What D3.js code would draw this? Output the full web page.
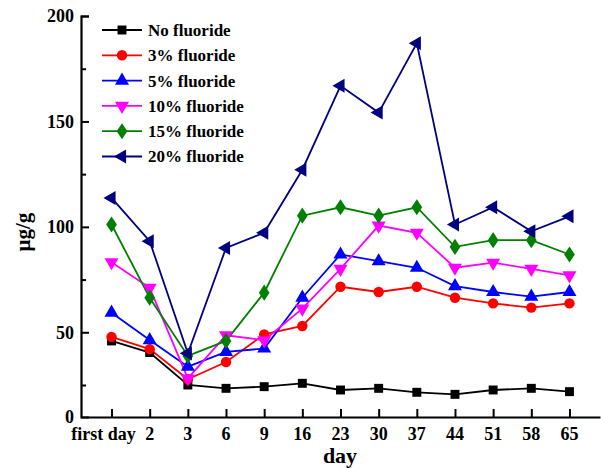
<!DOCTYPE html>
<html><head><meta charset="utf-8">
<script src="https://cdn.jsdelivr.net/npm/d3@7"></script>
<style>
body{margin:0;background:#fff;}
text{font-family:"Liberation Serif","Times New Roman",serif;font-weight:bold;fill:#000;}
</style></head>
<body><svg id="c" width="601" height="468"></svg>
<script>
const days = ["first day","2","3","6","9","16","23","30","37","44","51","58","65"];
const seriesNames = ["No fluoride","3% fluoride","5% fluoride","10% fluoride","15% fluoride","20% fluoride"];
const noFluoride = [45.9,40.4,25.0,22.4,23.7,25.8,21.1,22.4,19.3,17.7,21.1,22.4,19.8];
const fluoride3  = [47.8,42.0,27.7,35.9,49.0,53.0,71.6,69.1,71.6,66.4,63.7,61.7,63.7];
const fluoride5  = [59.3,46.3,33.7,40.7,42.3,66.4,86.9,83.7,80.6,71.9,69.1,66.9,69.1];
const fluoride10 = [83.2,71.1,28.1,48.6,46.2,61.2,80.1,100.6,97.2,80.6,83.0,80.1,77.0];
const fluoride15 = [101.1,66.4,38.8,45.9,68.8,105.3,109.3,105.3,109.3,90.5,93.7,93.7,86.9];
const fluoride20 = [113.7,93.2,40.0,90.0,97.2,127.1,166.9,154.2,187.1,101.1,109.3,97.9,105.0];
const yMajorTicks = [0,50,100,150,200];
const yMinorTicks = [25,75,125,175];

const seriesValues = [noFluoride,fluoride3,fluoride5,fluoride10,fluoride15,fluoride20];
const colors = ["#000000","#ff0000","#0000ff","#ff00ff","#008000","#000080"];
const shapes = ["square","circle","up","down","diamond","left"];

const svg = d3.select("#c");
const x = d3.scalePoint().domain(days).range([81,600]).padding(0.8);
const y = d3.scaleLinear().domain([0,25,200]).range([417,385,16]);

function marker(g, shape, color){
  let sym;
  if(shape==="square") sym = d3.symbol(d3.symbolSquare, 80);
  else if(shape==="circle") sym = d3.symbol(d3.symbolCircle, 85);
  else if(shape==="diamond") sym = d3.symbol(d3.symbolDiamond, 75);
  else sym = d3.symbol(d3.symbolTriangle, 85);
  const p = g.append("path").attr("d", sym).attr("fill", color).attr("stroke","none");
  if(shape==="down") p.attr("transform","rotate(180)");
  if(shape==="left") p.attr("transform","rotate(-90)");
  if(shape==="diamond") p.attr("transform","scale(1.15,1)");
}

// axes
const yAxis = svg.append("g").attr("transform","translate(81,0)")
  .call(d3.axisRight(y).tickValues(yMajorTicks).tickSize(8).tickFormat(""));
svg.append("g").attr("transform","translate(81,0)")
  .call(d3.axisRight(y).tickValues(yMinorTicks).tickSize(5).tickFormat(""))
  .select(".domain").remove();
svg.selectAll(".tick line").attr("stroke","#000").attr("stroke-width",2);
yAxis.select(".domain").attr("stroke","#000").attr("stroke-width",2.2);
yAxis.selectAll(".tick").filter(d=>d===0).select("line").remove();

svg.append("g").selectAll("text").data(yMajorTicks).join("text")
  .attr("x",74).attr("y",d=>y(d)).attr("dy","0.35em")
  .attr("text-anchor","end").attr("font-size",18).text(d=>d);

const xAxis = svg.append("g").attr("transform","translate(0,417)")
  .call(d3.axisTop(x).tickSize(8).tickSizeOuter(0).tickFormat(""));
xAxis.select(".domain").attr("stroke","#000").attr("stroke-width",2.2);
xAxis.selectAll(".tick line").attr("stroke","#000").attr("stroke-width",2);

svg.append("g").selectAll("text").data(days).join("text")
  .attr("x",d=>x(d)).attr("dx",(d,i)=>i===0?-8:0).attr("y",440)
  .attr("text-anchor","middle").attr("font-size",18).text(d=>d);

svg.append("text").attr("x",340).attr("y",463).attr("text-anchor","middle")
  .attr("font-size",22).text("day");
svg.append("text").attr("transform","translate(30,232) rotate(-90)")
  .attr("text-anchor","middle").attr("font-size",21).text("μg/g");

// series
const line = d3.line().x((d,i)=>x(days[i])).y(d=>y(d));
seriesValues.forEach((vals,si)=>{
  svg.append("path").datum(vals).attr("d",line).attr("fill","none")
    .attr("stroke",colors[si]).attr("stroke-width",1.8);
});
seriesValues.forEach((vals,si)=>{
  vals.forEach((v,i)=>{
    const g = svg.append("g").attr("transform",`translate(${x(days[i])},${y(v)})`);
    marker(g, shapes[si], colors[si]);
  });
});

// legend
const leg = svg.append("g");
seriesNames.forEach((name,i)=>{
  const yy = 30 + i*25.3;
  leg.append("line").attr("x1",102).attr("x2",142).attr("y1",yy).attr("y2",yy)
    .attr("stroke",colors[i]).attr("stroke-width",1.8);
  const g = leg.append("g").attr("transform",`translate(122,${yy})`);
  marker(g, shapes[i], colors[i]);
  leg.append("text").attr("x",148).attr("y",yy).attr("dy","0.35em")
    .attr("font-size",17).text(name);
});
</script></body></html>
